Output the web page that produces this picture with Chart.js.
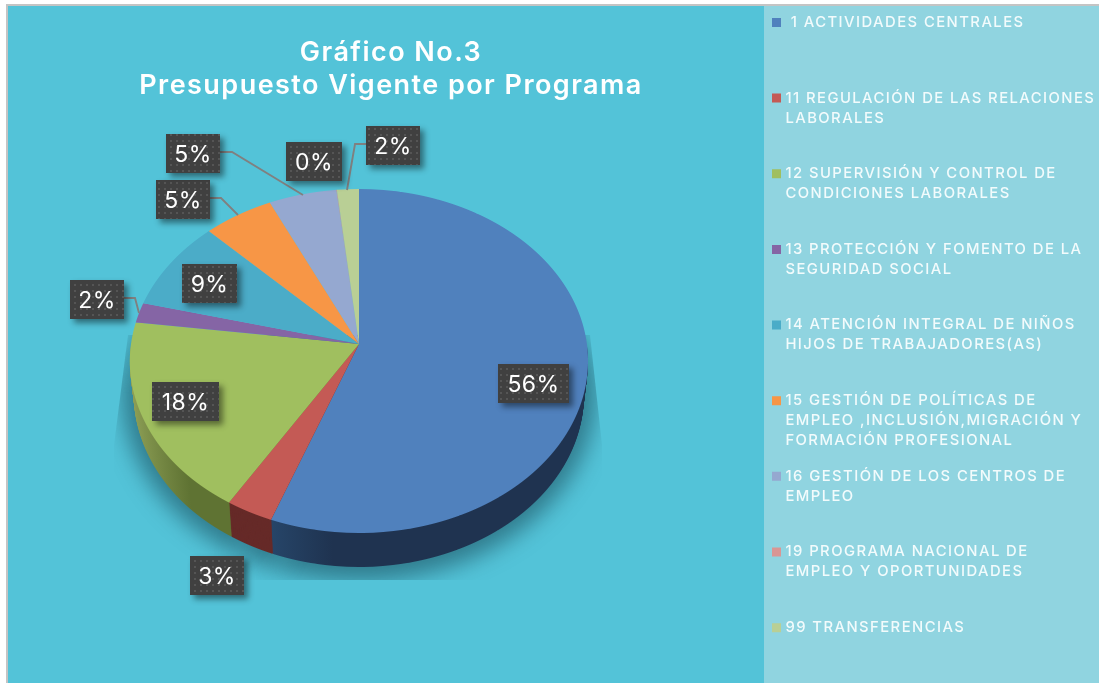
<!DOCTYPE html>
<html><head><meta charset="utf-8">
<script src="https://cdn.jsdelivr.net/npm/chart.js@4/dist/chart.umd.min.js"></script>
<style>html,body{margin:0;padding:0;background:#fff}canvas{display:block}</style>
</head><body><div style="width:1099px;height:683px;position:relative"><canvas id="c"></canvas></div>
<script>
const titleLines = ['Gráfico No.3', 'Presupuesto Vigente por Programa'];
const programas = [
  [' 1 ACTIVIDADES CENTRALES'],
  ['11 REGULACIÓN DE LAS RELACIONES', 'LABORALES'],
  ['12 SUPERVISIÓN Y CONTROL DE', 'CONDICIONES LABORALES'],
  ['13 PROTECCIÓN Y FOMENTO DE LA', 'SEGURIDAD SOCIAL'],
  ['14 ATENCIÓN INTEGRAL DE NIÑOS', 'HIJOS DE TRABAJADORES(AS)'],
  ['15 GESTIÓN DE POLÍTICAS DE', 'EMPLEO ,INCLUSIÓN,MIGRACIÓN Y', 'FORMACIÓN PROFESIONAL'],
  ['16 GESTIÓN DE LOS CENTROS DE', 'EMPLEO'],
  ['19 PROGRAMA NACIONAL DE', 'EMPLEO Y OPORTUNIDADES'],
  ['99 TRANSFERENCIAS']
];
const porcentajes = [55.7, 3.05, 18.3, 1.9, 8.6, 5.45, 5.25, 0.05, 1.7];
const colores = ['#5081bd', '#c45a55', '#a0bf5f', '#8565a5', '#4bacc8', '#f79646', '#95a8d0', '#d99694', '#b9cf95'];

const FONT = 'Inter, "Open Sans", sans-serif';
const BG = '#53c3d8', PANEL = '#90d4e0';
const CX = 359, CY = 344, R = 229, DEPTH = 34;
const KP = -0.0988, AP = 227.9, BP = 170.3;   // perspective of the pie disc

const cajas = [[498,364,569,403],[190,556,244,595],[152,382,219,421],[70,280,124,319],[182,264,237,303],[156,180,210,219],[166,134,220,173],[286,142,342,181],[366,126,420,165]];
const guias = {3:[[124,298],[135,298],[139,313]],5:[[210,198],[221,198],[238,215]],6:[[220,152],[232,152],[303,195]],8:[[366,144],[355,144],[347,190]]};

function dotted(ctx){
  const p = document.createElement('canvas'); p.width = 6; p.height = 6;
  const g = p.getContext('2d');
  g.fillStyle = '#404040'; g.fillRect(0,0,6,6);
  g.fillStyle = '#555555'; g.fillRect(2,2,2,2);
  return ctx.createPattern(p,'repeat');
}

// Paint the library's arcs row by row through a perspective map of the disc.
function projected(ctx, dy, sx, yMin, paint){
  for (let Y = 187; Y < 536; Y++){
    if (Y + dy < yMin) continue;
    const D = Y + 0.5 - CY;
    const v = D / (BP - KP * D);
    if (Math.abs(v) > 1.02) continue;
    const w = 1 + KP * v;
    ctx.save();
    ctx.beginPath(); ctx.rect(0, Y + dy, 1099, 1); ctx.clip();
    ctx.translate(CX, CY + D + dy);
    ctx.scale(AP / w / R * sx, BP / (w * w) / R);
    ctx.translate(-CX, -(CY + R * v));
    paint();
    ctx.restore();
  }
}
function softShadow(ctx, paint){
  // two flattened halves, used only for the blurred cast shadow
  const off = 48;
  [[0, CY + off, 155 / R], [CY + off, 683, 189 / R]].forEach(([y0, y1, s]) => {
    ctx.save();
    ctx.beginPath(); ctx.rect(0, y0, 1099, y1 - y0); ctx.clip();
    ctx.translate(CX, CY + off); ctx.scale(1.035, s); ctx.translate(-CX, -CY);
    paint();
    ctx.restore();
  });
}
function withColor(el, color, fn){
  const o = el.options;
  const t = Object.create(o); t.backgroundColor = color; t.borderColor = color; t.borderWidth = 0;
  el.options = t; fn(); el.options = o;
}

const perspectivePie = {
  id: 'perspectivePie',
  afterLayout(chart){
    chart.chartArea = {left:CX-R,right:CX+R,top:CY-R,bottom:CY+R,width:2*R,height:2*R};
    const t = chart.titleBlock; t.left = 7; t.right = 775; t.top = 36.5; t.bottom = 103;
    const l = chart.legend; l.left = 775-15.65; l.top = -0.6; l.bottom = 683; l.right = 1099;
    if (!l.__spaced){
      const d = l.draw.bind(l), c = chart.ctx;
      l.draw = function(){ c.letterSpacing = '1.45px'; d(); c.letterSpacing = '1.45px'; };
      l.__spaced = true;
    }
  },
  beforeDraw(chart){
    const c = chart.ctx;
    c.save();
    c.fillStyle = '#fff'; c.fillRect(0,0,1099,683);
    c.fillStyle = '#c4c4c4'; c.fillRect(6,4,1093,679);
    c.fillStyle = BG; c.fillRect(8,6,1091,677);
    c.fillStyle = PANEL; c.fillRect(764,6,335,677);
    c.restore();
    c.letterSpacing = '1.45px';
  },
  beforeDatasetDraw(chart){
    const c = chart.ctx, arcs = chart.getDatasetMeta(0).data;
    c.letterSpacing = '0px';
    // cast shadow, cut to a tapered outline
    c.save();
    c.beginPath();
    c.moveTo(128,335); c.lineTo(590,335); c.lineTo(602,445); c.lineTo(602,580); c.lineTo(114,580); c.lineTo(114,445);
    c.closePath(); c.clip();
    c.filter = 'blur(11px)';
    softShadow(c, ()=>arcs.forEach(a=>withColor(a,'rgba(20,65,80,0.55)',()=>a.draw(c))));
    c.restore();
    // side wall of the three front slices
    const azul = c.createLinearGradient(272,0,335,0); azul.addColorStop(0,'#27476b'); azul.addColorStop(1,'#1f3350');
    const verde = c.createLinearGradient(135,0,200,0); verde.addColorStop(0,'#8c9e55'); verde.addColorStop(1,'#5f7333');
    const pared = {0:azul, 1:'#662a28', 2:verde};
    for (let d = DEPTH; d >= 1; d--){
      const sx = 1 - 0.018 * d / DEPTH;
      projected(c, d, sx, 345, ()=>[0,1,2].forEach(i=>withColor(arcs[i],pared[i],()=>arcs[i].draw(c))));
    }
    // top face
    projected(c, 0, 1, 0, ()=>arcs.forEach(a=>a.draw(c)));
    return false;
  },
  afterDatasetsDraw(chart){
    const c = chart.ctx, pat = dotted(c);
    c.save();
    c.strokeStyle = '#808080'; c.lineWidth = 1.9;
    Object.values(guias).forEach(p=>{
      c.beginPath(); p.forEach(([x,y],i)=>i?c.lineTo(x,y):c.moveTo(x,y)); c.stroke();
    });
    porcentajes.forEach((v,i)=>{
      const [l,t,r,b] = cajas[i];
      c.save();
      c.shadowColor='rgba(0,0,0,0.45)'; c.shadowBlur=6; c.shadowOffsetX=4; c.shadowOffsetY=4;
      c.fillStyle='#404040'; c.fillRect(l,t,r-l,b-t);
      c.restore();
      c.fillStyle=pat; c.fillRect(l,t,r-l,b-t);
      c.fillStyle='#fff'; c.font='400 23px '+FONT; c.textAlign='center'; c.textBaseline='middle';
      c.letterSpacing='0.4px';
      c.fillText(Math.round(v)+'%',(l+r)/2,(t+b)/2+1.5);
    });
    c.restore();
  }
};

new Chart(document.getElementById('c'), {
  type: 'pie',
  data: { labels: programas, datasets: [{ data: porcentajes, backgroundColor: colores, borderWidth: 0, clip: false }] },
  options: {
    responsive: true, maintainAspectRatio: false, animation: false,
    plugins: {
      tooltip: { enabled: false },
      title: { display: true, text: titleLines, color: '#fff', padding: 0,
        font: { family: FONT, size: 27, weight: '600', lineHeight: '33px' } },
      legend: { position: 'right', align: 'start',
        labels: { padding: 15.65, boxWidth: 3, boxHeight: 3,
          font: { family: FONT, size: 14.8, weight: '500', lineHeight: '20px' },
          generateLabels(chart){
            return programas.map((lines,i)=>({
              text: [...lines, '', ''].slice(0,3),
              fontColor: '#f2fbfc',
              fillStyle: colores[i], strokeStyle: colores[i], lineWidth: 6, index: i, hidden: false
            }));
          } } }
    }
  },
  plugins: [perspectivePie]
});
</script></body></html>
